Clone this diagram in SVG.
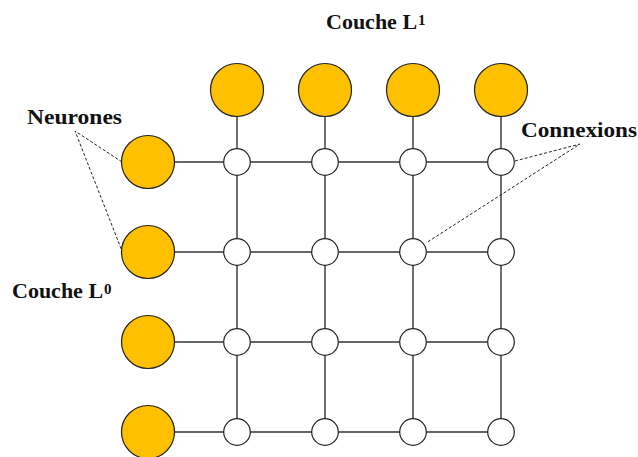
<svg xmlns="http://www.w3.org/2000/svg" width="638" height="457" viewBox="0 0 638 457">
<style>
.neuron{fill:#FFC000;stroke:#222;stroke-width:1.2}
.node{fill:#fff;stroke:#222;stroke-width:1.2}
.wire{stroke:#333;stroke-width:1.4;fill:none}
.dash{stroke:#222;stroke-width:1;stroke-dasharray:3,2;fill:none}
.lbl{font-family:"Liberation Serif",serif;font-weight:bold;font-size:22px;fill:#111}
.sup{font-size:15px}
</style>
<rect width="638" height="457" fill="#fff"/>
<g id="connectors">
<line class="wire" x1="148" y1="162" x2="501" y2="162"/>
<line class="wire" x1="148" y1="252" x2="501" y2="252"/>
<line class="wire" x1="148" y1="342" x2="501" y2="342"/>
<line class="wire" x1="148" y1="432" x2="501" y2="432"/>
<line class="wire" x1="237" y1="90" x2="237" y2="432"/>
<line class="wire" x1="325" y1="90" x2="325" y2="432"/>
<line class="wire" x1="413" y1="90" x2="413" y2="432"/>
<line class="wire" x1="501" y1="90" x2="501" y2="432"/>
<polyline class="dash" points="122,162 75,131 122,251"/>
<polyline class="dash" points="515,161 580,144 426,243"/>
</g>
<g id="top-neurons">
<circle id="t1" class="neuron" cx="237" cy="90" r="26.5"/>
<circle id="t2" class="neuron" cx="325" cy="90" r="26.5"/>
<circle id="t3" class="neuron" cx="413" cy="90" r="26.5"/>
<circle id="t4" class="neuron" cx="501" cy="90" r="26.5"/>
</g>
<g id="left-neurons">
<circle id="l1" class="neuron" cx="148" cy="162" r="26.5"/>
<circle id="l2" class="neuron" cx="148" cy="252" r="26.5"/>
<circle id="l3" class="neuron" cx="148" cy="342" r="26.5"/>
<circle id="l4" class="neuron" cx="148" cy="432" r="26.5"/>
</g>
<g id="connections">
<circle class="node" cx="237" cy="162" r="13.3"/><circle class="node" cx="325" cy="162" r="13.3"/><circle class="node" cx="413" cy="162" r="13.3"/><circle class="node" cx="501" cy="162" r="13.3"/>
<circle class="node" cx="237" cy="252" r="13.3"/><circle class="node" cx="325" cy="252" r="13.3"/><circle class="node" cx="413" cy="252" r="13.3"/><circle class="node" cx="501" cy="252" r="13.3"/>
<circle class="node" cx="237" cy="342" r="13.3"/><circle class="node" cx="325" cy="342" r="13.3"/><circle class="node" cx="413" cy="342" r="13.3"/><circle class="node" cx="501" cy="342" r="13.3"/>
<circle class="node" cx="237" cy="432" r="13.3"/><circle class="node" cx="325" cy="432" r="13.3"/><circle class="node" cx="413" cy="432" r="13.3"/><circle class="node" cx="501" cy="432" r="13.3"/>
</g>
<g id="labels">
<text class="lbl" x="326" y="29">Couche L<tspan class="sup" dx="1" dy="-4">1</tspan></text>
<text class="lbl" x="12" y="298">Couche L<tspan class="sup" dx="1" dy="-4">0</tspan></text>
<text class="lbl" x="27" y="124" textLength="95" lengthAdjust="spacingAndGlyphs">Neurones</text>
<text class="lbl" x="521" y="137" textLength="116" lengthAdjust="spacingAndGlyphs">Connexions</text>
</g>
</svg>
